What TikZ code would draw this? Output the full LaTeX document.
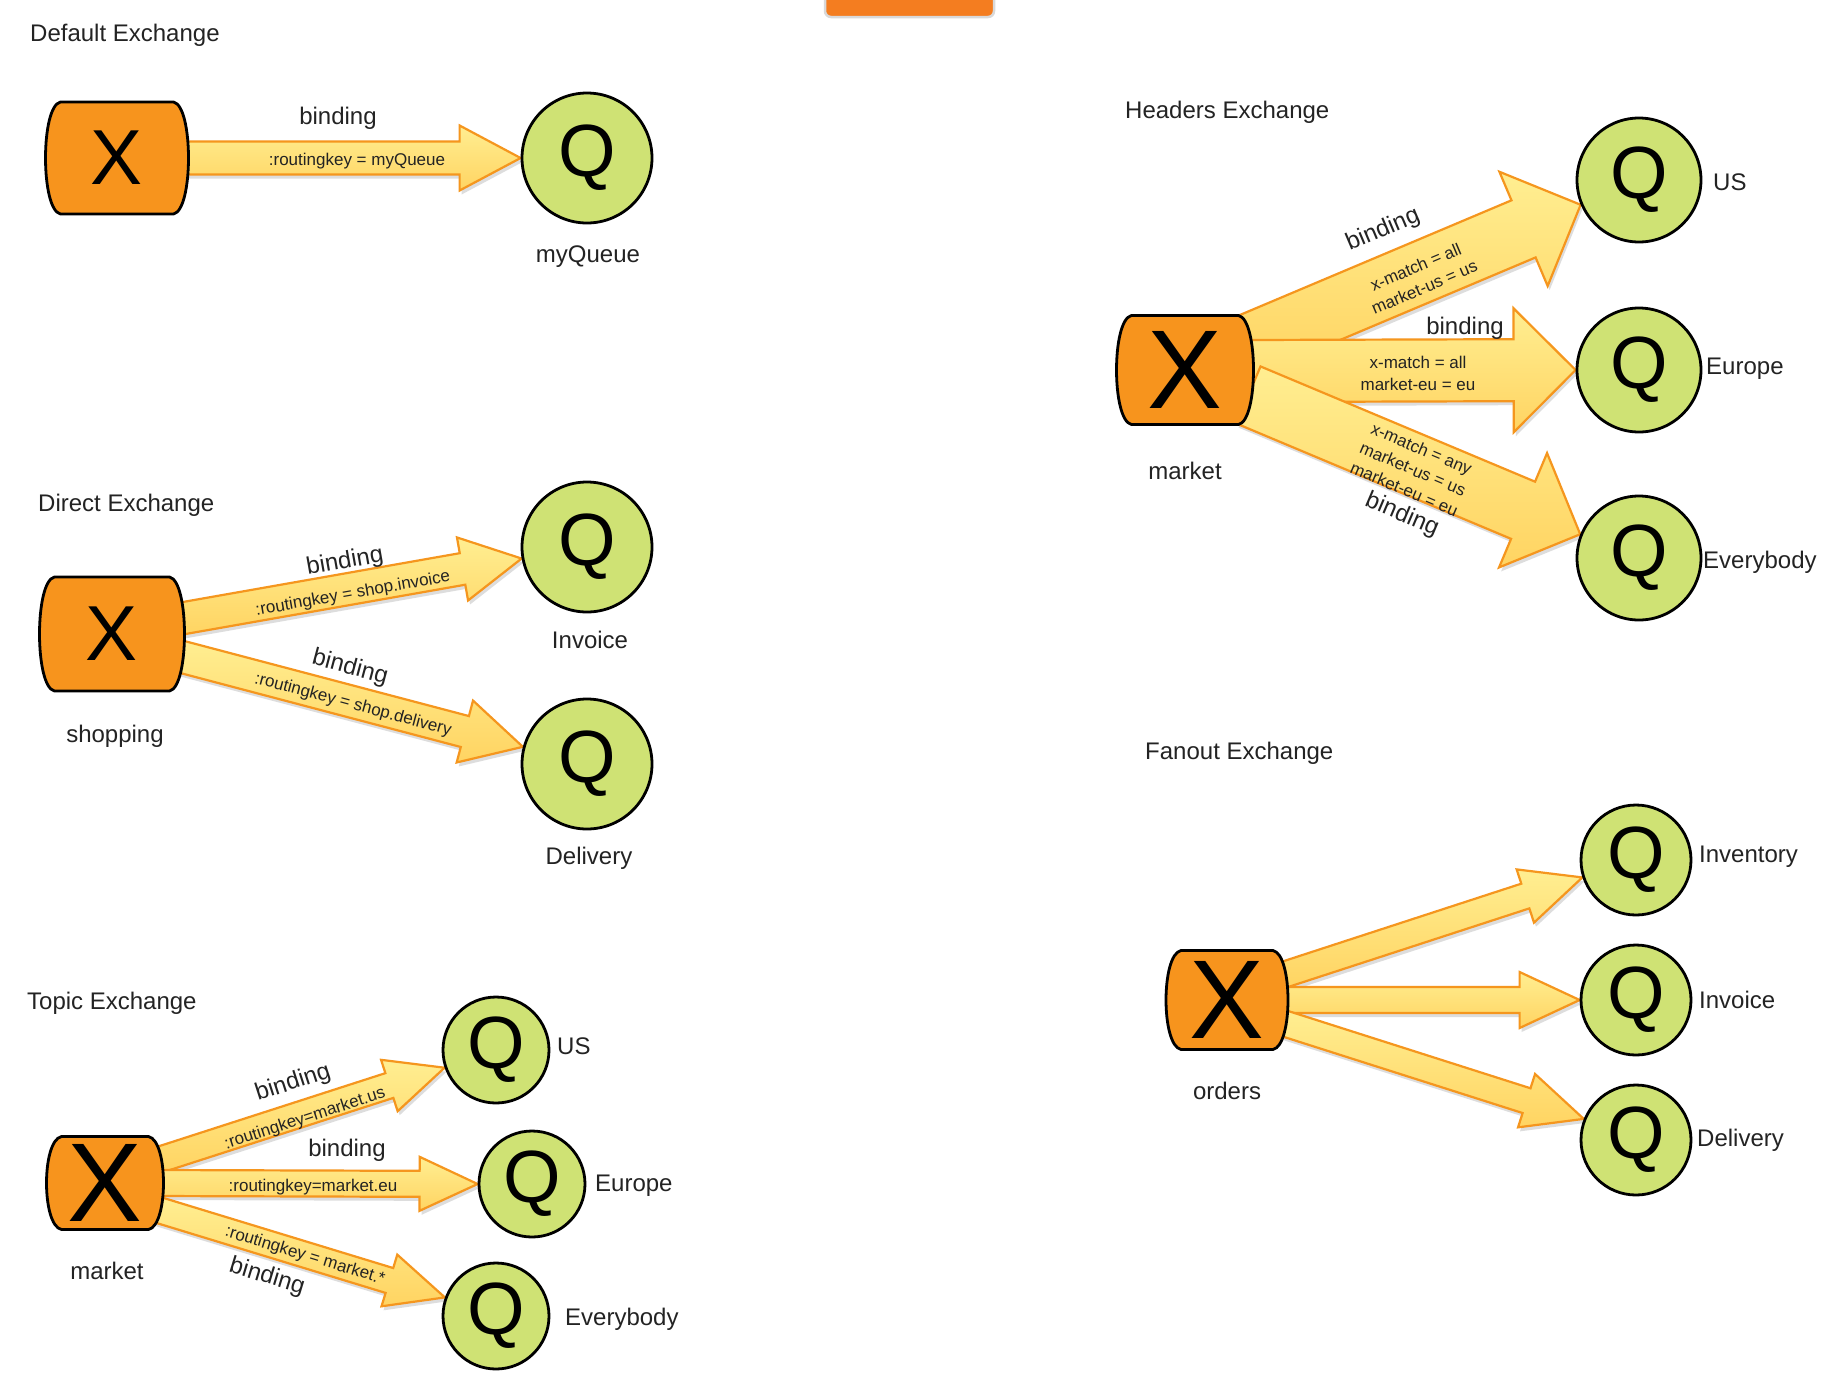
\documentclass[tikz,border=0pt]{standalone}
\usepackage{fontspec}
\setmainfont{Liberation Sans}
\usetikzlibrary{calc,shadows}
\pgfdeclarelayer{back}
\pgfdeclarelayer{bg}
\pgfdeclarelayer{boxes}
\pgfsetlayers{back,bg,boxes,main}
\definecolor{xorange}{RGB}{247,148,29}
\definecolor{qgreen}{RGB}{207,226,116}
\definecolor{arrowedge}{RGB}{245,150,30}
\definecolor{arrowtop}{RGB}{255,238,145}
\definecolor{arrowbot}{RGB}{255,212,98}
\definecolor{tabor}{RGB}{244,125,32}
\definecolor{txt}{RGB}{35,35,35}
\tikzset{
  xbox/.style={rectangle, inner sep=0pt, outer sep=0pt, font=\fontsize{78}{78}\selectfont},
  bigx/.style={font=\fontsize{112}{112}\selectfont},
  xboxpath/.style={draw=black, line width=2.8pt, fill=xorange, line join=round},
  qcirc/.style={circle, draw=black, line width=2.8pt, fill=qgreen, inner sep=0pt,
    font=\fontsize{74}{74}\selectfont},
  lbl/.style={font=\fontsize{24}{28}\selectfont, text=txt, inner sep=0pt},
  ttl/.style={lbl, anchor=west},
  qname/.style={lbl, anchor=west},
  small/.style={font=\fontsize{17}{22}\selectfont, text=txt, inner sep=0pt, align=center},
  fatarrowstyle/.style={draw=arrowedge, line width=2.2pt, top color=arrowtop, bottom color=arrowbot,
    drop shadow={shadow xshift=2pt, shadow yshift=-4pt, opacity=0.22, fill=black!60}},
}
% barrel outline of an exchange node
\newcommand\xshape[1]{%
  \begin{pgfonlayer}{boxes}
  \path[xboxpath] ($(#1.north west)+(15,0)$) -- ($(#1.north east)+(-15,0)$)
    .. controls ($(#1.north east)+(5,4)$) and ($(#1.south east)+(5,-4)$) .. ($(#1.south east)+(-15,0)$)
    -- ($(#1.south west)+(15,0)$)
    .. controls ($(#1.south west)+(-5,-4)$) and ($(#1.north west)+(-5,4)$) .. cycle;
  \end{pgfonlayer}
}
% #1 tail, #2 tip, #3 shaft half width, #4 head half width, #5 head length
\newcommand\fatarrow[5]{%
  \coordinate (fahead) at ($(#2)!#5!(#1)$);
  \path[fatarrowstyle] ($(#1)!#3!90:(#2)$) -- ($(fahead)!#3!-90:(#1)$) -- ($(fahead)!#4!-90:(#1)$)
    -- (#2) -- ($(fahead)!#4!90:(#1)$) -- ($(fahead)!#3!90:(#1)$) -- ($(#1)!#3!-90:(#2)$) -- cycle;
}
\begin{document}
\begin{tikzpicture}[x=1pt,y=-1pt]
\useasboundingbox (0,0) rectangle (1836,1382);
\begin{pgfonlayer}{back}
\fill[white] (0,0) rectangle (1836,1382);
\end{pgfonlayer}
% top tab
\draw[rounded corners=6pt, fill=tabor, draw=black!15, line width=2.5pt] (825,-12) rectangle (994,17);

% ---------- Default Exchange ----------
\node[ttl] (dtitle) at (30,35) {Default Exchange};
\node[xbox, minimum width=143pt, minimum height=112pt] (dx) at (117,158) {X};
\node[qcirc, minimum size=130pt] (dq) at (587,158) {Q};
\node[lbl] (dname) at (588,257) {myQueue};

% ---------- Direct Exchange ----------
\node[ttl] (stitle) at (38,505) {Direct Exchange};
\node[xbox, minimum width=145pt, minimum height=114pt] (sx) at (112,634) {X};
\node[lbl] (sname) at (115,736) {shopping};
\node[qcirc, minimum size=130pt] (sq1) at (587,547) {Q};
\node[lbl] (sq1name) at (590,640) {Invoice};
\node[qcirc, minimum size=130pt] (sq2) at (587,764) {Q};
\node[lbl] (sq2name) at (589,858) {Delivery};

% ---------- Topic Exchange ----------
\node[ttl] (ttitle) at (27,1003) {Topic Exchange};
\node[xbox, bigx, minimum width=117pt, minimum height=93pt] (tx) at (105,1183) {X};
\node[lbl] (tname) at (107,1271) {market};
\node[qcirc, minimum size=106pt] (tq1) at (496,1050) {Q};
\node[qname] (tq1name) at (557,1046) {US};
\node[qcirc, minimum size=106pt] (tq2) at (532,1184) {Q};
\node[qname] (tq2name) at (595,1186) {Europe};
\node[qcirc, minimum size=106pt] (tq3) at (496,1316) {Q};
\node[qname] (tq3name) at (565,1319) {Everybody};

% ---------- Headers Exchange ----------
\node[ttl] (htitle) at (1125,112) {Headers Exchange};
\node[xbox, bigx, minimum width=137pt, minimum height=109pt] (hx) at (1185,370) {X};
\node[lbl] (hname) at (1185,471) {market};
\node[qcirc, minimum size=124pt] (hq1) at (1639,180) {Q};
\node[qname] (hq1name) at (1713,182) {US};
\node[qcirc, minimum size=124pt] (hq2) at (1639,370) {Q};
\node[qname] (hq2name) at (1706,369) {Europe};
\node[qcirc, minimum size=124pt] (hq3) at (1639,558) {Q};
\node[qname] (hq3name) at (1703,562) {Everybody};

% ---------- Fanout Exchange ----------
\node[ttl] (ftitle) at (1145,753) {Fanout Exchange};
\node[xbox, bigx, minimum width=122pt, minimum height=99pt] (fx) at (1227,1000) {X};
\node[lbl] (fname) at (1227,1091) {orders};
\node[qcirc, minimum size=110pt] (fq1) at (1636,860) {Q};
\node[qname] (fq1name) at (1699,857) {Inventory};
\node[qcirc, minimum size=110pt] (fq2) at (1636,1000) {Q};
\node[qname] (fq2name) at (1699,1000) {Invoice};
\node[qcirc, minimum size=110pt] (fq3) at (1636,1140) {Q};
\node[qname] (fq3name) at (1697,1140) {Delivery};

% ---------- exchange outlines ----------
\xshape{dx}
\xshape{sx}
\xshape{tx}
\xshape{hx}
\xshape{fx}

% ---------- arrows (behind nodes) ----------
\begin{pgfonlayer}{bg}
  \coordinate (dt) at ($(dx.east)+(-6,0)$);
  \fatarrow{dt}{dq.west}{16.5pt}{32.5pt}{61pt}

  \coordinate (st1) at ($(sx.east)+(-6,-15)$);
  \coordinate (st2) at ($(sx.east)+(-6,22)$);
  \fatarrow{st1}{sq1.190}{16pt}{32pt}{60pt}
  \fatarrow{st2}{sq2.165}{16pt}{32pt}{60pt}

  \coordinate (tt1) at ($(tx.east)+(-5,-23)$);
  \coordinate (tt2) at ($(tx.east)+(-5,0)$);
  \coordinate (tt3) at ($(tx.east)+(-5,27)$);
  \fatarrow{tt1}{tq1.199}{13pt}{27pt}{58pt}
  \fatarrow{tt2}{tq2.west}{13pt}{27pt}{58pt}
  \fatarrow{tt3}{tq3.160}{13pt}{27pt}{58pt}

  \coordinate (ht1) at ($(hx.east)+(-5,-25)$);
  \coordinate (ht2) at ($(hx.east)+(-5,1)$);
  \coordinate (ht3) at ($(hx.east)+(-5,25)$);
  \fatarrow{ht1}{hq1.203}{31pt}{62pt}{62pt}
  \fatarrow{ht2}{hq2.west}{31pt}{62pt}{62pt}
  \fatarrow{ht3}{hq3.158}{31pt}{62pt}{62pt}

  \coordinate (ft1) at ($(fx.east)+(-5,-25)$);
  \coordinate (ft2) at ($(fx.east)+(-5,0)$);
  \coordinate (ft3) at ($(fx.east)+(-5,23)$);
  \fatarrow{ft1}{fq1.198}{13pt}{28pt}{60pt}
  \fatarrow{ft2}{fq2.west}{13pt}{28pt}{60pt}
  \fatarrow{ft3}{fq3.158}{13pt}{28pt}{60pt}
\end{pgfonlayer}

% ---------- arrow labels ----------
\node[lbl] (dbind) at (338,118) {binding};
\node[small] (dkey) at (357,161) {:routingkey = myQueue};

\node[lbl, rotate=10] (sbind1) at (345,562) {binding};
\node[small, rotate=10] (skey1) at (353,594) {:routingkey = shop.invoice};
\node[lbl, rotate=-15] (sbind2) at (350,668) {binding};
\node[small, rotate=-15] (skey2) at (353,705) {:routingkey = shop.delivery};

\node[lbl, rotate=18] (tbind1) at (293,1083) {binding};
\node[small, rotate=18] (tkey1) at (305,1119) {:routingkey=market.us};
\node[lbl] (tbind2) at (347,1150) {binding};
\node[small] (tkey2) at (313,1187) {:routingkey=market.eu};
\node[small, rotate=-17] (tkey3) at (305,1256) {:routingkey = market.*};
\node[lbl, rotate=-17] (tbind3) at (267,1277) {binding};

\node[lbl, rotate=23] (hbind1) at (1383,230) {binding};
\node[small, rotate=23] (hkey1) at (1420,277) {x-match = all\\market-us = us};
\node[lbl] (hbind2) at (1465,328) {binding};
\node[small] (hkey2) at (1418,373) {x-match = all\\market-eu = eu};
\node[small, rotate=-23] (hkey3) at (1413,469) {x-match = any\\market-us = us\\market-eu = eu};
\node[lbl, rotate=-23] (hbind3) at (1402,515) {binding};
\end{tikzpicture}
\end{document}
